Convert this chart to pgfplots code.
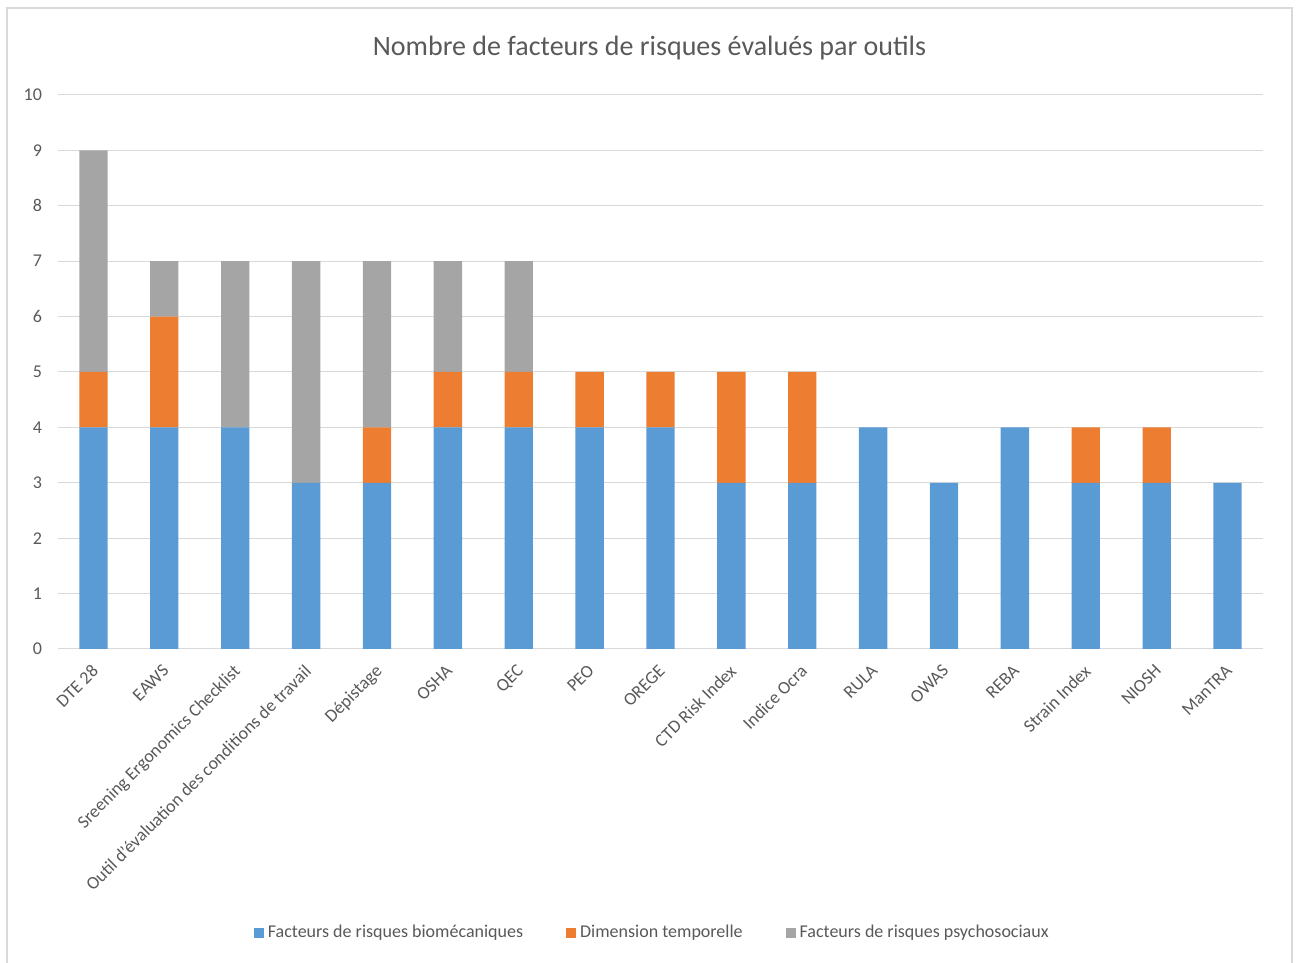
\documentclass[border=0pt]{standalone}
\usepackage{pgfplots}
\pgfplotsset{compat=1.18}
\usepackage{pgfplotstable}
\usepackage{fontspec}
\setmainfont{Carlito}
\definecolor{cblue}{HTML}{5B9BD5}
\definecolor{corange}{HTML}{ED7D31}
\definecolor{cgray}{HTML}{A5A5A5}
\definecolor{ctext}{HTML}{595959}
\definecolor{cgrid}{HTML}{D9D9D9}
\pgfplotstableread{
x bio temp psy
0 4 1 4
1 4 2 1
2 4 0 3
3 3 0 4
4 3 1 3
5 4 1 2
6 4 1 2
7 4 1 0
8 4 1 0
9 3 2 0
10 3 2 0
11 4 0 0
12 3 0 0
13 4 0 0
14 3 1 0
15 3 1 0
16 3 0 0
}\data
\begin{document}
\begin{tikzpicture}
\useasboundingbox (0,0) rectangle (649pt,481.5pt);
\draw[cgrid, line width=0.75pt] (3.5pt,-2pt) -- (3.5pt,477.5pt) -- (646pt,477.5pt) -- (646pt,-2pt);
\node[text=ctext, font=\fontsize{14}{17}\selectfont] at (324.75pt,457.5pt) {Nombre de facteurs de risques évalués par outils};
\begin{axis}[
  at={(29pt,157pt)}, anchor=south west, scale only axis,
  width=602.5pt, height=277pt,
  ybar stacked, bar width=0.4,
  xmin=-0.5, xmax=16.5, ymin=0, ymax=10,
  ytick={0,1,...,10}, xtick={0,1,...,16},
  xticklabels={DTE 28, EAWS, Sreening Ergonomics Checklist, Outil d'évaluation des conditions de travail, Dépistage, OSHA, QEC, PEO, OREGE, CTD Risk Index, Indice Ocra, RULA, OWAS, REBA, Strain Index, NIOSH, ManTRA},
  ymajorgrids, grid style={cgrid, line width=0.5pt},
  axis line style={draw=none},
  major tick length=0pt,
  /pgf/number format/assume math mode=true,
  tick label style={text=ctext, font=\fontsize{9}{11}\selectfont},
  xticklabel style={rotate=45, anchor=north east, inner sep=1pt, yshift=-3pt, xshift=-5pt},
  yticklabel style={xshift=-4.5pt},
  legend columns=3,
  legend style={draw=none, at={(0.494,-0.5126)}, anchor=center, font=\fontsize{9}{11}\selectfont, text=ctext, /tikz/every even column/.append style={column sep=19.5pt}},
  legend image code/.code={\fill[#1] (0pt,-2.5pt) rectangle (5pt,2.5pt);},
]
\addplot[fill=cblue, draw=none] table[x=x,y=bio]{\data};
\addplot[fill=corange, draw=none] table[x=x,y=temp]{\data};
\addplot[fill=cgray, draw=none] table[x=x,y=psy]{\data};
\legend{Facteurs de risques biomécaniques, Dimension temporelle, Facteurs de risques psychosociaux}
\end{axis}
\end{tikzpicture}
\end{document}
